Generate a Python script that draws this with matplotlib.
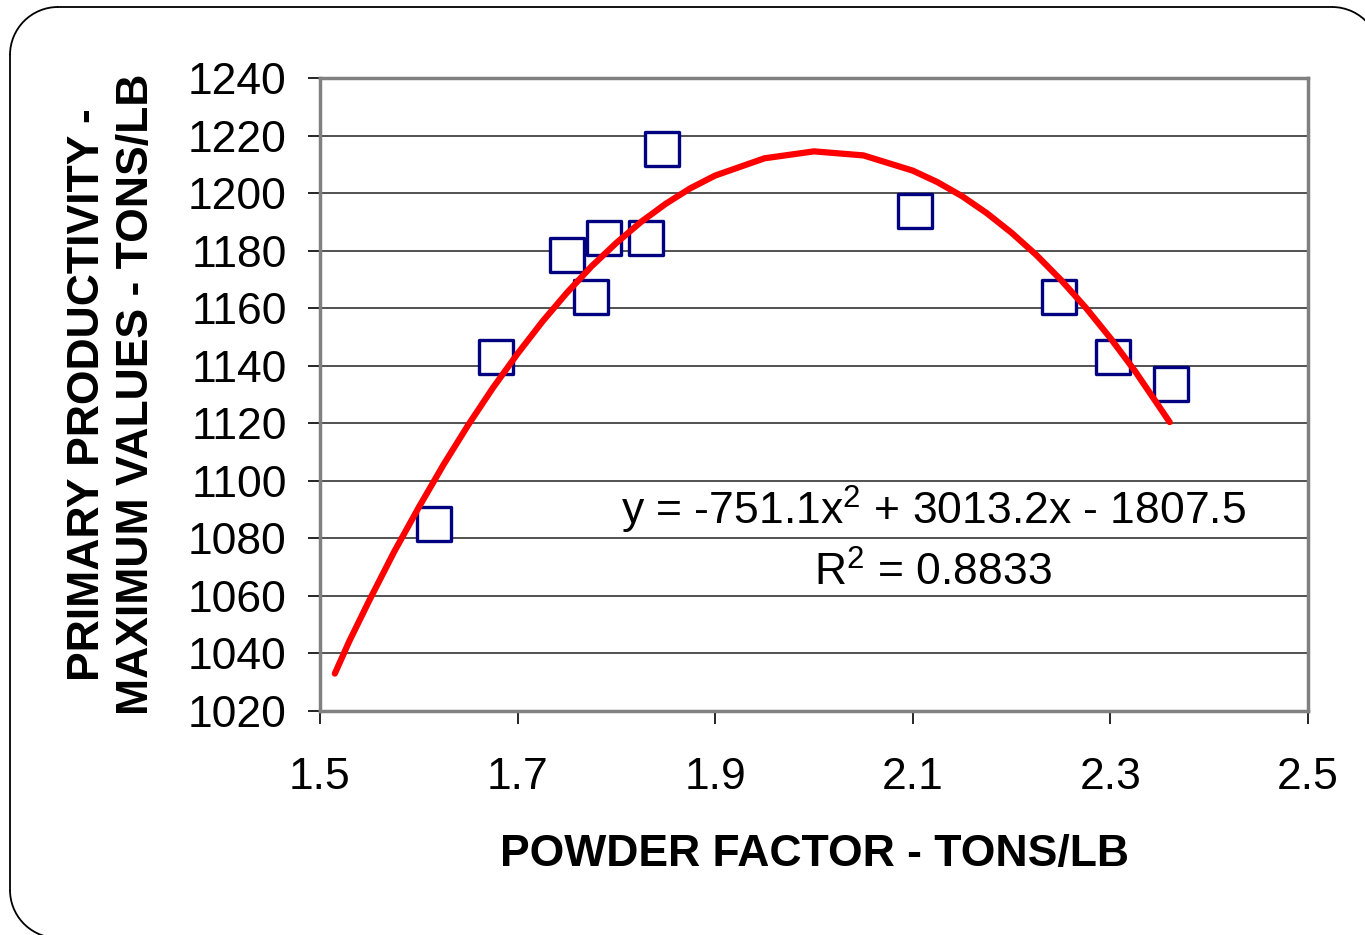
import numpy as np
import matplotlib
matplotlib.use("Agg")
import matplotlib.pyplot as plt
from matplotlib.patches import Arc

plt.rcParams['font.family'] = ['Liberation Sans', 'DejaVu Sans']
plt.rcParams['mathtext.fontset'] = 'custom'
plt.rcParams['mathtext.rm'] = 'Liberation Sans'

# measured points
powder_factor = [1.615, 1.678, 1.750, 1.774, 1.787, 1.830, 1.846, 2.102, 2.248, 2.303, 2.361]
productivity = [1085, 1143, 1178.5, 1164, 1184.4, 1184.4, 1215.3, 1193.8, 1164, 1143, 1133.7]

# trendline
trend_x = [1.515, 1.53, 1.55, 1.575, 1.60, 1.625, 1.65, 1.675, 1.70, 1.725, 1.75, 1.775, 1.80,
           1.825, 1.85, 1.875, 1.90, 1.95, 2.00, 2.05, 2.10, 2.125, 2.15, 2.175, 2.20,
           2.225, 2.25, 2.275, 2.30, 2.325, 2.36]
trend_y = [1033, 1044.5, 1058.5, 1075.3, 1090.8, 1105.6, 1119.4, 1132.3, 1144.2, 1155.3, 1165.4,
           1174.6, 1182.7, 1190.0, 1196.3, 1201.7, 1206.1, 1212.1, 1214.5, 1213.1, 1207.8,
           1203.8, 1198.9, 1193.0, 1186.2, 1178.5, 1169.8, 1160.2, 1149.6, 1138.1, 1120.4]

x_ticks = [1.5, 1.7, 1.9, 2.1, 2.3, 2.5]
y_ticks = list(range(1020, 1241, 20))

fig = plt.figure(figsize=(13.65, 9.35), dpi=100)

# rounded outer frame, drawn on a pixel-sized overlay axes (y up)
bg = fig.add_axes([0, 0, 1, 1])
bg.set_xlim(0, 1365)
bg.set_ylim(0, 935)
bg.axis('off')
left, right, top, bottom, r = 10, 1380, 928, -3, 48
kw = dict(color='black', linewidth=1.3)
bg.plot([left + r, right - r], [top, top], **kw)
bg.plot([left, left], [bottom + r, top - r], **kw)
# only the visible part of the top-right and bottom-left corners
bg.add_patch(Arc((left + r, top - r), 2 * r, 2 * r, theta1=90, theta2=180, **kw))
bg.add_patch(Arc((left + r, bottom + r), 2 * r, 2 * r, theta1=180, theta2=265, **kw))
bg.add_patch(Arc((right - r, top - r), 2 * r, 2 * r, theta1=40, theta2=90, **kw))

ax = fig.add_axes([320 / 1365, 1 - 711 / 935, 988 / 1365, 633 / 935])

for y in y_ticks:
    ax.axhline(y, color='#333333', linewidth=1.2, zorder=1)

ax.scatter(powder_factor, productivity, marker='s', s=580, facecolors='white',
           edgecolors='#000080', linewidths=2.4, zorder=3)
ax.plot(trend_x, trend_y, color='#ff0000', linewidth=4.5, solid_capstyle='round',
        solid_joinstyle='round', zorder=4)

ax.set_xlim(1.5, 2.5)
ax.set_ylim(1020, 1240)
ax.set_xticks(x_ticks)
ax.set_xticklabels([str(t) for t in x_ticks])
ax.set_yticks(y_ticks)
ax.tick_params(axis='both', labelsize=32, direction='out', length=9, width=1.2, color='black')
ax.tick_params(axis='x', pad=24)
ax.tick_params(axis='y', pad=15)
for side in ax.spines.values():
    side.set_color('#808080')
    side.set_linewidth(2.5)

ax.set_xlabel("POWDER FACTOR - TONS/LB", fontsize=32, fontweight='bold', labelpad=26)
ax.set_ylabel("PRIMARY PRODUCTIVITY -\nMAXIMUM VALUES - TONS/LB", fontsize=32,
              fontweight='bold', labelpad=22, linespacing=1.25)

ax.text(0.937, 0.3175, r"y = -751.1x$^{2}$ + 3013.2x - 1807.5", transform=ax.transAxes,
        fontsize=32, ha='right', va='center', zorder=5)
ax.text(0.741, 0.218, r"R$^{2}$ = 0.8833", transform=ax.transAxes,
        fontsize=32, ha='right', va='center', zorder=5)

fig.savefig("out.png", dpi=100)
